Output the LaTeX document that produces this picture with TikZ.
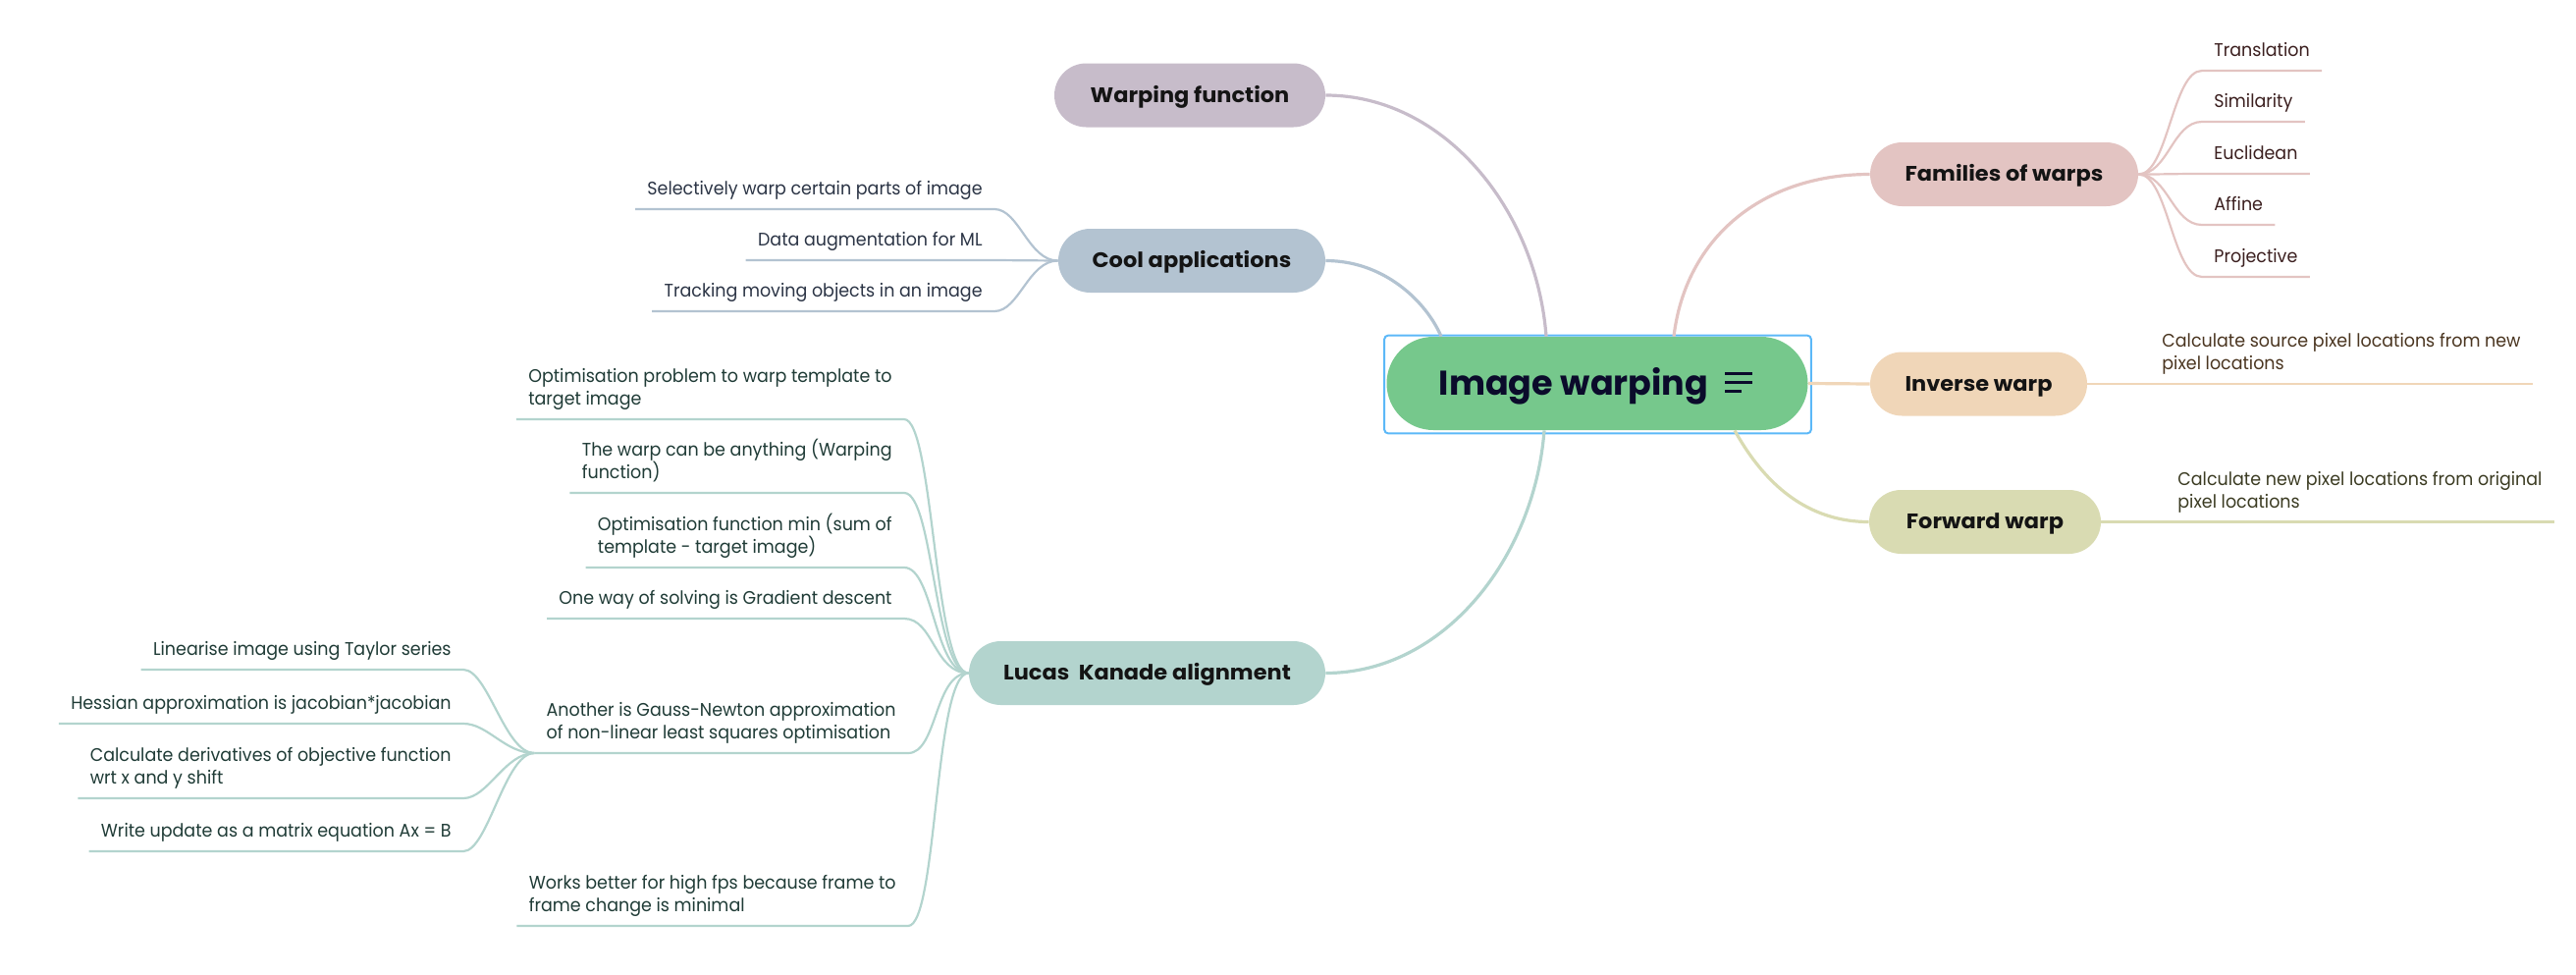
\documentclass[tikz,border=0pt]{standalone}
\usepackage{fontspec}
\setmainfont{Poppins}
\newfontfamily\topicfont[FakeStretch=1.05]{Poppins}
\newfontfamily\leaffont[FakeStretch=0.94]{Poppins}
\usetikzlibrary{positioning}

\definecolor{mainfill}{HTML}{76C88C}
\definecolor{maintext}{HTML}{0B0B2B}
\definecolor{selblue}{HTML}{5CB8F8}
\definecolor{wfcol}{HTML}{C7BCCA}
\definecolor{coolcol}{HTML}{B3C3D1}
\definecolor{famcol}{HTML}{E3C4C2}
\definecolor{invcol}{HTML}{F0D6B8}
\definecolor{fwdcol}{HTML}{D9DBB2}
\definecolor{lkcol}{HTML}{B3D4CE}
\definecolor{cooltext}{HTML}{2B3445}
\definecolor{famtext}{HTML}{3B1F1F}
\definecolor{invtext}{HTML}{4A3520}
\definecolor{fwdtext}{HTML}{3B3B22}
\definecolor{lktext}{HTML}{1F3B36}

\begin{document}
\begin{tikzpicture}[x=0.5pt,y=-0.5pt,
  topic/.style={rounded corners=16.25pt, minimum height=32.5pt, inner sep=0pt,
    text height=7.4pt, text depth=0pt, text=black!92,
    font=\topicfont\fontsize{10.7pt}{13pt}\selectfont\bfseries},
  leaf/.style={inner xsep=6pt, inner ysep=7pt, text depth=0pt, align=left,
    font=\leaffont\fontsize{9.3pt}{11.5pt}\selectfont},
  branch/.style={line width=1.6pt},
  twig/.style={line width=1.1pt}]
\useasboundingbox (0,0) rectangle (2624,992);

% central topic
\node[fill=mainfill, rounded corners=23.75pt, minimum width=214.5pt, minimum height=47.5pt,
  inner sep=0pt, text height=12.2pt, text depth=0pt, text=maintext,
  font=\fontsize{17.5pt}{20pt}\selectfont\bfseries] (main) at (1627,390.5) {Image warping\hspace*{24pt}};
\draw[selblue, line width=1pt, rounded corners=2pt]
  ([shift={(-2,-1)}]main.north west) rectangle ([shift={(3,3)}]main.south east);
\draw[maintext, line width=1.1pt] ([shift={(130,-10)}]main.center) -- +(28,0);
\draw[maintext, line width=1.1pt] ([shift={(130,-1)}]main.center) -- +(28,0);
\draw[maintext, line width=1.1pt] ([shift={(130,8)}]main.center) -- +(17,0);

% main topics
\node[topic, fill=wfcol, minimum width=138pt] (wf) at (1212,97) {Warping function};
\node[topic, fill=coolcol, minimum width=136pt] (cool) at (1214,265.5) {Cool applications};
\node[topic, fill=famcol, minimum width=136.5pt] (fam) at (2041.5,177.5) {Families of warps};
\node[topic, fill=invcol, minimum width=110.5pt] (inv) at (2015.5,391) {Inverse warp};
\node[topic, fill=fwdcol, minimum width=118pt] (fwd) at (2022,531.5) {Forward warp};
\node[topic, fill=lkcol, minimum width=181.5pt] (lk) at (1168.5,685.5) {Lucas\ \ Kanade alignment};

% branches from the centre
\draw[branch, wfcol] (wf.east) .. controls +(120,0) and +(-10,-130) .. ([xshift=-26pt]main.north);
\draw[branch, coolcol] (cool.east) .. controls +(60,0) and +(-15,-35) .. ([xshift=-79.5pt]main.north);
\draw[branch, famcol] ([xshift=39pt]main.north) .. controls +(12,-100) and +(-110,0) .. (fam.west);
\draw[branch, invcol] (main.east) -- (inv.west);
\draw[branch, fwdcol] ([xshift=70pt]main.south) .. controls +(25,45) and +(-70,0) .. (fwd.west);
\draw[branch, lkcol] ([xshift=-27pt]main.south) .. controls +(-10,130) and +(120,0) .. (lk.east);

% families of warps
\node[leaf, text=famtext, anchor=south west] (tr) at (2243,72) {Translation};
\node[leaf, text=famtext, anchor=south west] (si) at (2243,124) {Similarity};
\node[leaf, text=famtext, anchor=south west] (eu) at (2243,177) {Euclidean};
\node[leaf, text=famtext, anchor=south west] (af) at (2243,229) {Affine};
\node[leaf, text=famtext, anchor=south west] (pr) at (2243,282) {Projective};
\draw[twig, famcol] (fam.east) .. controls +(30,0) and +(-30,0) .. (tr.south west) -- (tr.south east);
\draw[twig, famcol] (fam.east) .. controls +(30,0) and +(-30,0) .. (si.south west) -- (si.south east);
\draw[twig, famcol] (fam.east) .. controls +(30,0) and +(-30,0) .. (eu.south west) -- (eu.south east);
\draw[twig, famcol] (fam.east) .. controls +(30,0) and +(-30,0) .. (af.south west) -- (af.south east);
\draw[twig, famcol] (fam.east) .. controls +(30,0) and +(-30,0) .. (pr.south west) -- (pr.south east);

% inverse and forward warp
\node[leaf, text=invtext, anchor=south west] (invl) at (2190,391) {Calculate source pixel locations from new\\pixel locations};
\node[leaf, text=fwdtext, anchor=south west] (fwdl) at (2206,531.5) {Calculate new pixel locations from original\\pixel locations};
\draw[twig, invcol] (inv.east) -- (invl.south west) -- (invl.south east);
\draw[twig, fwdcol] (fwd.east) -- (fwdl.south west) -- (fwdl.south east);

% cool applications
\node[leaf, text=cooltext, anchor=south east] (sel) at (1013,213) {Selectively warp certain parts of image};
\node[leaf, text=cooltext, anchor=south east] (aug) at (1013,265) {Data augmentation for ML};
\node[leaf, text=cooltext, anchor=south east] (trk) at (1013,317) {Tracking moving objects in an image};
\draw[twig, coolcol] (cool.west) .. controls +(-30,0) and +(25,0) .. (sel.south east) -- (sel.south west);
\draw[twig, coolcol] (cool.west) -- (aug.south east) -- (aug.south west);
\draw[twig, coolcol] (cool.west) .. controls +(-30,0) and +(25,0) .. (trk.south east) -- (trk.south west);

% lucas kanade
\node[leaf, text=lktext, anchor=south east] (opt) at (921,427) {Optimisation problem to warp template to\\target image};
\node[leaf, text=lktext, anchor=south east] (any) at (921,502) {The warp can be anything (Warping\\function)};
\node[leaf, text=lktext, anchor=south east] (fmin) at (921,578) {Optimisation function min (sum of\\template - target image)};
\node[leaf, text=lktext, anchor=south east] (gd) at (921,630) {One way of solving is Gradient descent};
\node[leaf, text=lktext, anchor=south east] (gn) at (925,767) {Another is Gauss-Newton approximation\\of non-linear least squares optimisation};
\node[leaf, text=lktext, anchor=south east] (fps) at (925,943) {Works better for high fps because frame to\\frame change is minimal};
\draw[twig, lkcol] (lk.west) .. controls +(-35,0) and +(30,0) .. (opt.south east) -- (opt.south west);
\draw[twig, lkcol] (lk.west) .. controls +(-35,0) and +(30,0) .. (any.south east) -- (any.south west);
\draw[twig, lkcol] (lk.west) .. controls +(-35,0) and +(30,0) .. (fmin.south east) -- (fmin.south west);
\draw[twig, lkcol] (lk.west) .. controls +(-35,0) and +(30,0) .. (gd.south east) -- (gd.south west);
\draw[twig, lkcol] (lk.west) .. controls +(-35,0) and +(30,0) .. (gn.south east) -- (gn.south west);
\draw[twig, lkcol] (lk.west) .. controls +(-35,0) and +(30,0) .. (fps.south east) -- (fps.south west);

% gauss-newton steps
\node[leaf, text=lktext, anchor=south east] (tay) at (472,682) {Linearise image using Taylor series};
\node[leaf, text=lktext, anchor=south east] (hes) at (472,737) {Hessian approximation is jacobian*jacobian};
\node[leaf, text=lktext, anchor=south east] (der) at (472,813) {Calculate derivatives of objective function\\wrt x and y shift};
\node[leaf, text=lktext, anchor=south east] (upd) at (472,867) {Write update as a matrix equation Ax = B};
\draw[twig, lkcol] (gn.south west) .. controls +(-30,0) and +(25,0) .. (tay.south east) -- (tay.south west);
\draw[twig, lkcol] (gn.south west) .. controls +(-30,0) and +(25,0) .. (hes.south east) -- (hes.south west);
\draw[twig, lkcol] (gn.south west) .. controls +(-30,0) and +(25,0) .. (der.south east) -- (der.south west);
\draw[twig, lkcol] (gn.south west) .. controls +(-30,0) and +(25,0) .. (upd.south east) -- (upd.south west);
\end{tikzpicture}
\end{document}
